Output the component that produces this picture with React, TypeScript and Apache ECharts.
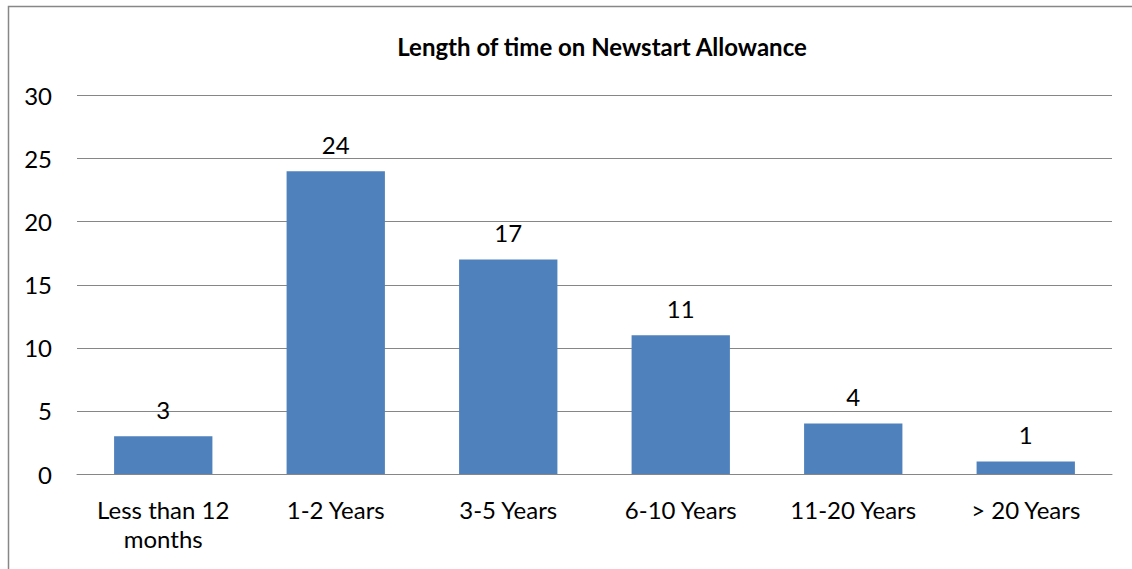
import React, { useEffect, useRef } from "react";
import * as echarts from "echarts";

const categories = [
  "Less than 12\nmonths",
  "1-2 Years",
  "3-5 Years",
  "6-10 Years",
  "11-20 Years",
  "> 20 Years",
];
const values = [3, 24, 17, 11, 4, 1];
const titleText = "Length of time on Newstart Allowance";

const FONT = "Lato, 'Noto Sans', sans-serif";

export default function App() {
  const ref = useRef<HTMLDivElement>(null);
  useEffect(() => {
    if (!ref.current) return;
    const chart = echarts.init(ref.current, undefined, { renderer: "svg" });
    chart.setOption({
      animation: false,
      backgroundColor: "#ffffff",
      textStyle: { fontFamily: FONT },
      graphic: [
        {
          type: "rect",
          shape: { x: 8.5, y: 6.5, width: 1200, height: 700 },
          style: { fill: "none", stroke: "#878787", lineWidth: 1.5 },
          silent: true,
        },
        {
          type: "text",
          x: 602,
          y: 46,
          style: {
            text: titleText,
            fontFamily: FONT,
            fontSize: 24,
            fontWeight: "bold",
            fill: "#000000",
            align: "center",
            verticalAlign: "middle",
          },
        },
      ],
      grid: { left: 77, right: 20, top: 95.5, bottom: 95, containLabel: false },
      xAxis: {
        type: "category",
        data: categories,
        axisLine: { show: true, lineStyle: { color: "#868686", width: 1 } },
        axisTick: { show: false },
        axisLabel: {
          interval: 0,
          color: "#000000",
          fontFamily: FONT,
          fontSize: 24,
          lineHeight: 29,
          margin: 21,
        },
      },
      yAxis: {
        type: "value",
        min: 0,
        max: 30,
        interval: 5,
        axisLine: { show: false },
        axisTick: { show: false },
        splitLine: { lineStyle: { color: "#868686", width: 1 } },
        axisLabel: {
          color: "#000000",
          fontFamily: FONT,
          fontSize: 24,
          margin: 25,
        },
      },
      series: [
        {
          type: "bar",
          data: values,
          barWidth: "57%",
          itemStyle: { color: "#4F81BD" },
          label: {
            show: true,
            position: "top",
            distance: 15,
            color: "#000000",
            fontFamily: FONT,
            fontSize: 24,
          },
        },
      ],
    });
    return () => chart.dispose();
  }, []);
  return (
    <div
      ref={ref}
      style={{ position: "absolute", left: 0, top: 0, width: 1132, height: 569 }}
    />
  );
}
